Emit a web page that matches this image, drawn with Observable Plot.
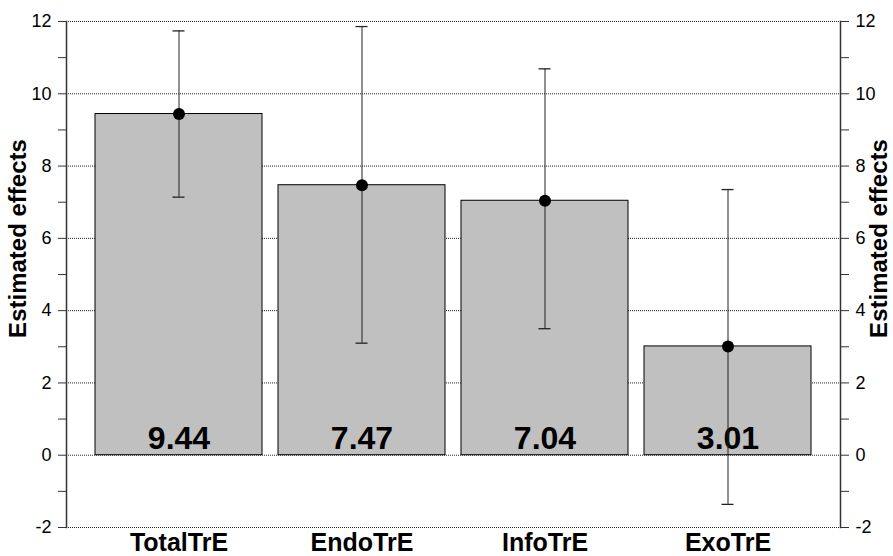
<!DOCTYPE html>
<html><head><meta charset="utf-8">
<script src="https://cdn.jsdelivr.net/npm/d3@7"></script>
<script src="https://cdn.jsdelivr.net/npm/@observablehq/plot@0.6"></script>
<style>body{margin:0;background:#fff}</style>
</head><body><div id="chart"></div>
<script>
const categories = ["TotalTrE", "EndoTrE", "InfoTrE", "ExoTrE"];
const estimates = [9.44, 7.47, 7.04, 3.01];
const lower = [7.14, 3.10, 3.50, -1.36];
const upper = [11.74, 11.86, 10.69, 7.35];
const yTicks = [-2, 0, 2, 4, 6, 8, 10, 12];
const yMinorTicks = [-1, 1, 3, 5, 7, 9, 11];
const yLabel = "Estimated effects";

const data = categories.map((c, i) => ({cat: c, value: estimates[i], lo: lower[i], hi: upper[i]}));
const allTicks = [...yTicks, ...yMinorTicks];
const fmt = d => (yTicks.includes(d) ? String(d) : "");

const chart = Plot.plot({
  width: 893,
  height: 556,
  marginLeft: 66,
  marginRight: 53,
  marginTop: 21,
  marginBottom: 29,
  style: {fontFamily: "'Liberation Sans', Arial, sans-serif", background: "#fff", color: "#000"},
  x: {domain: categories, paddingInner: 0.089, paddingOuter: 0.1545, label: null},
  y: {domain: [-2, 12], label: null},
  marks: [
    Plot.ruleY(yTicks, {stroke: "#222", strokeDasharray: "1,1", strokeWidth: 1}),
    Plot.barY(data, {x: "cat", y: "value", fill: "#c0c0c0", stroke: "#000", strokeWidth: 1}),
    Plot.text(data, {x: "cat", y: 0, text: d => d.value.toFixed(2), lineAnchor: "bottom", dy: -6, fontSize: 32, fontWeight: "bold", fill: "#000"}),
    Plot.ruleX(data, {x: "cat", y1: "lo", y2: "hi", stroke: "#222", strokeWidth: 1}),
    Plot.tickY(data, {x: "cat", y: "hi", stroke: "#222", strokeWidth: 1.3, insetLeft: 77.5, insetRight: 77.5}),
    Plot.tickY(data, {x: "cat", y: "lo", stroke: "#222", strokeWidth: 1.3, insetLeft: 77.5, insetRight: 77.5}),
    Plot.dot(data, {x: "cat", y: "value", r: 6, fill: "#000", stroke: "none"}),
    Plot.frame({anchor: "left", stroke: "#333", strokeWidth: 1.5}),
    Plot.frame({anchor: "right", stroke: "#333", strokeWidth: 1.5}),
    Plot.axisY({anchor: "left", ticks: allTicks, tickFormat: fmt, tickSize: 8, tickPadding: 7, fontSize: 18, stroke: "#333", label: null}),
    Plot.axisY({anchor: "right", ticks: allTicks, tickFormat: fmt, tickSize: 8, tickPadding: 7, fontSize: 18, stroke: "#333", label: null}),
    Plot.axisX({tickSize: 0, tickPadding: 6, fontSize: 25, fontWeight: "bold", label: null}),
    Plot.text([yLabel], {frameAnchor: "left", text: d => d, textAnchor: "middle", lineAnchor: "middle", rotate: -90, dx: -48, dy: -36, fontSize: 24, fontWeight: "bold", fill: "#000"}),
    Plot.text([yLabel], {frameAnchor: "right", text: d => d, textAnchor: "middle", lineAnchor: "middle", rotate: -90, dx: 39, dy: -36, fontSize: 24, fontWeight: "bold", fill: "#000"})
  ]
});
document.getElementById("chart").appendChild(chart);
</script>
</body></html>
